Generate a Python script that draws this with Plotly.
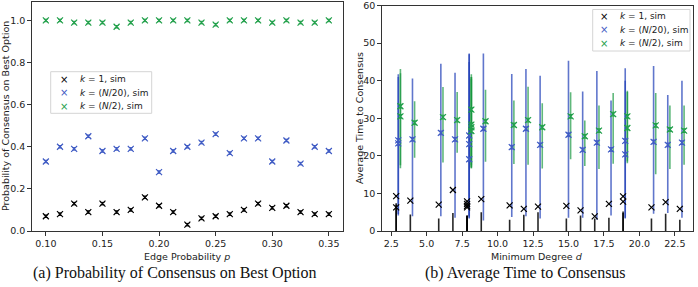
import plotly.graph_objects as go

# ---------------- (a) data ----------------
edge_p = [0.1 + 0.0125 * i for i in range(21)]
p_k1 = [0.07, 0.08, 0.13, 0.09, 0.13, 0.09, 0.10, 0.16, 0.12, 0.09, 0.03,
        0.06, 0.07, 0.08, 0.10, 0.13, 0.11, 0.12, 0.09, 0.08, 0.08]
p_k20 = [0.33, 0.40, 0.39, 0.45, 0.38, 0.39, 0.39, 0.44, 0.28, 0.38, 0.40,
         0.42, 0.46, 0.37, 0.44, 0.44, 0.33, 0.43, 0.32, 0.40, 0.38]
p_k2 = [1.00, 1.00, 0.99, 0.99, 0.99, 0.97, 0.99, 1.00, 1.00, 1.00, 1.00,
        0.99, 0.98, 1.00, 1.00, 1.00, 0.99, 1.00, 0.99, 0.99, 1.00]
p_err = 0.006

# ---------------- (b) data ----------------
# k = 1
d_k1 = [3, 3, 4, 6, 7, 8, 8, 8, 8, 9, 11, 12, 13, 15, 16, 17, 18, 19, 19, 21, 22, 23]
t_k1 = [9.3, 6.3, 8.1, 7.0, 10.9, 7.9, 7.2, 6.7, 6.3, 8.5, 6.8, 5.9, 6.5, 6.7,
        5.5, 3.9, 7.2, 9.2, 7.8, 6.3, 7.7, 5.9]
lo_k1 = [0] * 22
hi_k1 = [7.4, 7.0, 4.4, 3.3, 4.8, 4.1, 4.0, 3.9, 4.1, 5.0, 3.0, 4.3, 5.0, 3.3,
         4.1, 3.3, 3.5, 5.2, 4.8, 3.3, 4.6, 3.0]
# k = N/20
d_k20 = [3, 3, 4, 6, 7, 8, 8, 8, 9, 11, 12, 13, 15, 16, 17, 18, 19, 19, 21, 22, 23]
t_k20 = [24.1, 23.3, 24.4, 26.1, 24.4, 25.4, 23.1, 19.1, 27.2, 22.3, 27.2, 22.9,
         25.6, 21.6, 23.5, 21.7, 24.0, 20.4, 23.7, 22.9, 23.5]
lo_k20 = [4.1, 4.5, 3.9, 3.9, 3.5, 3.3, 3.6, 4.0, 2.8, 3.7, 3.9, 3.3, 3.5, 3.5,
          3.0, 4.1, 3.3, 3.5, 4.6, 4.8, 3.5]
hi_k20 = [41.7, 41.0, 40.6, 44.5, 42.1, 47.2, 47.0, 45.0, 47.2, 41.8, 43.1, 41.3,
          45.3, 37.1, 42.6, 34.7, 43.3, 40.0, 43.9, 36.2, 40.0]
# k = N/2
d_k2 = [3, 3, 4, 6, 7, 8, 8, 8, 8, 9, 11, 12, 13, 15, 16, 17, 18, 19, 19, 21, 22, 23]
t_k2 = [33.2, 30.5, 28.8, 30.3, 29.5, 32.3, 28.3, 27.6, 26.6, 29.2, 28.2, 29.5,
        27.6, 30.5, 25.2, 26.7, 31.1, 30.5, 27.4, 28.1, 27.0, 26.7]
lo_k2 = [16.7, 17.5, 19.5, 18.2, 20.8, 16.7, 17.5, 17.0, 16.7, 18.4, 17.8, 17.6,
         16.6, 19.1, 17.3, 16.5, 17.9, 18.0, 18.5, 15.1, 16.5, 17.6]
hi_k2 = [43.1, 42.0, 34.5, 38.3, 37.0, 41.7, 41.0, 40.5, 41.0, 37.6, 34.7, 38.4,
         34.0, 36.9, 29.4, 33.4, 36.7, 37.3, 37.0, 36.7, 33.4, 33.4]
t_err = 0.5

x_offsets = {"k1": -0.15, "k20": 0.0, "k2": 0.15}

names = ["<i>k</i> = 1, sim", "<i>k</i> = (<i>N</i>/20), sim", "<i>k</i> = (<i>N</i>/2), sim"]
colors = ["#000000", "#3f5bc4", "#22a04b"]
bar_colors = ["rgba(0,0,0,0.85)", "rgba(35,65,185,0.72)", "rgba(20,150,60,0.68)"]

W, H = 698, 287
fig = go.Figure()

# (a)
for vals, name, col in zip([p_k1, p_k20, p_k2], names, colors):
    fig.add_trace(go.Scatter(
        x=edge_p, y=vals, mode="markers", name=name, showlegend=False,
        marker=dict(symbol="x-thin", size=6, line=dict(width=1.2, color=col), color=col),
        error_y=dict(type="constant", value=p_err, width=2, thickness=1, color=col),
        xaxis="x", yaxis="y"))

# (b) bars
def seg(xs, lo, hi, off):
    X, Y = [], []
    for x, a, b in zip(xs, lo, hi):
        X += [x + off, x + off, None]
        Y += [a, b, None]
    return X, Y

series_b = [(d_k1, t_k1, lo_k1, hi_k1, "k1"), (d_k20, t_k20, lo_k20, hi_k20, "k20"),
            (d_k2, t_k2, lo_k2, hi_k2, "k2")]
for (ds, ts, lo, hi, key), bc in zip(series_b, bar_colors):
    X, Y = seg(ds, lo, hi, x_offsets[key])
    fig.add_trace(go.Scatter(x=X, y=Y, mode="lines", line=dict(color=bc, width=1.6),
                             showlegend=False, hoverinfo="skip", xaxis="x2", yaxis="y2"))
for (ds, ts, lo, hi, key), name, col in zip(series_b, names, colors):
    fig.add_trace(go.Scatter(
        x=[d + x_offsets[key] for d in ds], y=ts, mode="markers", name=name, showlegend=False,
        marker=dict(symbol="x-thin", size=6, line=dict(width=1.2, color=col), color=col),
        error_y=dict(type="constant", value=t_err, width=2, thickness=1, color=col,
                     visible=(key != "k1")),
        xaxis="x2", yaxis="y2"))

axis_common = dict(showline=True, mirror=True, linecolor="#333", linewidth=1, automargin=False,
                   ticks="outside", ticklen=3.5, tickcolor="#333", showgrid=False,
                   ticklabeloverflow="allow",
                   zeroline=False, tickfont=dict(family="DejaVu Sans", size=9.5, color="#222"))

def px(x):
    return x / W

def py(y):
    return 1 - y / H

shapes = []
annotations = []

def note(text, x, y, font, xanchor="center", angle=0):
    annotations.append(dict(text=text, x=px(x), y=py(y), xref="paper", yref="paper",
                            showarrow=False, xanchor=xanchor, yanchor="middle",
                            textangle=angle, font=font))

# manual legends (matplotlib-like compact rows)
def add_legend(x0, x1, y0, y1, rows_y, mx, tx):
    shapes.append(dict(type="rect", xref="paper", yref="paper", x0=px(x0), x1=px(x1),
                       y0=py(y1), y1=py(y0), line=dict(color="#d4d4d4", width=1),
                       fillcolor="rgba(255,255,255,0.85)", layer="above"))
    for ry, name, col in zip(rows_y, names, colors):
        note("×", mx, ry, dict(family="DejaVu Sans", size=10, color=col))
        note(name, tx, ry, dict(family="DejaVu Sans", size=9, color="#222"), xanchor="left")

add_legend(50.7, 151.7, 71.7, 113.3, [79.3, 92.7, 106.0], 64, 78)
add_legend(592.7, 690.0, 9.5, 51.0, [16.2, 29.7, 43.3], 604, 618)

lab_font = dict(family="DejaVu Sans", size=9.5, color="#222")
cap_font = dict(family="Liberation Serif", size=16, color="#111")
note("Edge Probability <i>p</i>", 187, 256, lab_font)
note("Minimum Degree <i>d</i>", 537, 256, lab_font)
note("Probability of Consensus on Best Option", 5, 116, lab_font, angle=-90)
note("Average Time to Consensus", 360, 118, lab_font, angle=-90)
note("(a) Probability of Consensus on Best Option", 175, 273, cap_font)
note("(b) Average Time to Consensus", 525, 273, cap_font)

fig.update_layout(
    width=W, height=H, margin=dict(l=0, r=0, t=0, b=0, autoexpand=False),
    plot_bgcolor="white", paper_bgcolor="white", showlegend=False,
    xaxis=dict(domain=[px(31.7), px(343)], range=[0.0875, 0.3625],
               tickvals=[0.10, 0.15, 0.20, 0.25, 0.30, 0.35], tickformat=".2f", anchor="y", **axis_common),
    yaxis=dict(domain=[py(231), py(1.5)], range=[0, 1.09], tickvals=[0, 0.2, 0.4, 0.6, 0.8, 1.0],
               tickformat=".1f", anchor="x", **axis_common),
    xaxis2=dict(domain=[px(381.7), px(693.3)], range=[1.83, 23.8],
                tickvals=[2.5, 5, 7.5, 10, 12.5, 15, 17.5, 20, 22.5], tickformat=".1f", anchor="y2", **axis_common),
    yaxis2=dict(domain=[py(231), py(5.5)], range=[0, 60], tickvals=[0, 10, 20, 30, 40, 50, 60],
                anchor="x2", **axis_common),
    shapes=shapes,
    annotations=annotations,
)

fig.write_html("out.html")
